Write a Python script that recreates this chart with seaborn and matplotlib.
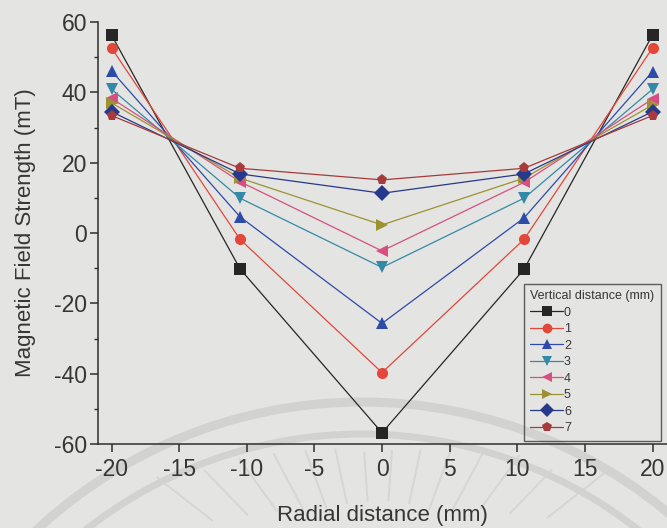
import numpy as np
import pandas as pd
import matplotlib
matplotlib.use("Agg")
import matplotlib.pyplot as plt
from matplotlib.patches import Arc
from matplotlib.lines import Line2D
from matplotlib.transforms import IdentityTransform
import seaborn as sns

# Radial positions of the probe (mm)
radial_mm = [-20, -10.5, 0, 10.5, 20]

# Field strength (mT) at each vertical distance (mm)
vertical_levels = ["0", "1", "2", "3", "4", "5", "6", "7"]
b_0 = [56.3, -10.2, -56.8, -10.3, 56.3]
b_1 = [52.6, -1.8, -39.7, -1.8, 52.6]
b_2 = [46.1, 4.6, -25.7, 4.3, 45.9]
b_3 = [40.9, 9.9, -9.8, 9.9, 40.9]
b_4 = [38.3, 14.6, -5.1, 14.4, 38.1]
b_5 = [37.0, 15.6, 2.3, 15.6, 36.4]
b_6 = [34.5, 16.8, 11.3, 16.8, 34.5]
b_7 = [33.4, 18.4, 15.1, 18.4, 33.4]
series = [b_0, b_1, b_2, b_3, b_4, b_5, b_6, b_7]

x_ticks = [-20, -15, -10, -5, 0, 5, 10, 15, 20]
y_ticks = [-60, -40, -20, 0, 20, 40, 60]

colors = ["#262626", "#e2473a", "#2d4ba8", "#3589a8",
          "#d64f80", "#9c9232", "#27398a", "#a63a3c"]
markers = ["s", "o", "^", "v", "<", ">", "D", "p"]

rows = []
for lvl, vals in zip(vertical_levels, series):
    for xv, yv in zip(radial_mm, vals):
        rows.append({"x": xv, "B": yv, "d": lvl})
df = pd.DataFrame(rows)

sns.set_style("ticks")
plt.rcParams["font.family"] = ["Liberation Sans", "DejaVu Sans"]
text_color = "#363636"
bg = "#e4e4e2"

fig = plt.figure(figsize=(6.67, 5.28), dpi=100, facecolor=bg)

# faint printed emblem behind the plot
px = IdentityTransform()
wm = "#d2d2d0"
fig.patches.append(Arc((362, 528 - 880), 2 * 478, 2 * 478, theta1=0, theta2=180,
                       lw=6.5, color=wm, transform=px, zorder=-10))
fig.patches.append(Arc((362, 528 - 880), 2 * 446, 2 * 446, theta1=0, theta2=180,
                       lw=5, color=wm, transform=px, zorder=-10))
cx, cy = 378, 528 - 650
for ang, r1, r2 in [(38, 215, 290), (46, 190, 250), (54, 175, 240), (62, 160, 225),
                    (70, 150, 215), (78, 150, 205), (86, 150, 200), (94, 150, 198),
                    (102, 150, 205), (110, 152, 212), (118, 160, 222), (126, 172, 236),
                    (134, 188, 250), (142, 210, 280)]:
    a = np.deg2rad(ang)
    fig.lines.append(Line2D([cx + r1 * np.cos(a), cx + r2 * np.cos(a)],
                            [cy + r1 * np.sin(a), cy + r2 * np.sin(a)],
                            lw=1.4, color="#d6d6d4", transform=px, zorder=-10))

ax = fig.add_axes([98 / 667, 1 - 444 / 528, 1 - 98 / 667, (444 - 22) / 528])
ax.set_facecolor("none")

sns.lineplot(data=df, x="x", y="B", hue="d", style="d", hue_order=vertical_levels,
             style_order=vertical_levels, palette=colors, markers=markers,
             dashes=False, linewidth=0.9, markersize=8, markeredgewidth=0,
             ax=ax, legend="full")

ax.set_xlim(-21.0, 21.07)
ax.set_ylim(-60, 60)
ax.set_xticks(x_ticks)
ax.set_yticks(y_ticks)
ax.set_yticks([-50, -30, -10, 10, 30, 50], minor=True)
ax.set_xticklabels([str(v) for v in x_ticks])
ax.set_yticklabels([str(v) for v in y_ticks])

for side in ("top", "right"):
    ax.spines[side].set_visible(False)
for side in ("left", "bottom"):
    ax.spines[side].set_color("#2e2e2e")
    ax.spines[side].set_linewidth(1.1)

ax.tick_params(axis="both", which="major", direction="out", length=6, width=1.1,
               color="#2e2e2e", labelsize=16.5, labelcolor=text_color, pad=2)
ax.tick_params(axis="y", which="minor", direction="out", length=3, width=1.0,
               color="#2e2e2e")
ax.tick_params(axis="x", pad=4)

ax.set_xlabel("Radial distance (mm)", fontsize=16, color=text_color, labelpad=17)
ax.set_ylabel("Magnetic Field Strength (mT)", fontsize=16, color=text_color, labelpad=13)

sns.move_legend(ax, "upper left", bbox_to_anchor=(524 / 667, 1 - 284 / 528),
                bbox_transform=fig.transFigure, title="Vertical distance (mm)",
                frameon=True, fancybox=False, fontsize=9, title_fontsize=9,
                handlelength=2.6, handletextpad=0.1, labelspacing=0.36,
                borderpad=0.5, borderaxespad=0, alignment="left")
leg = ax.get_legend()
leg.get_frame().set_facecolor("none")
leg.get_frame().set_edgecolor("#3a3a3a")
leg.get_frame().set_linewidth(1.0)
leg.get_title().set_color(text_color)
for t in leg.get_texts():
    t.set_color(text_color)
for h in leg.legend_handles:
    h.set_markeredgewidth(0)
    h.set_markersize(7)
    h.set_linewidth(0.9)

fig.savefig("out.png", dpi=100, facecolor=bg)
